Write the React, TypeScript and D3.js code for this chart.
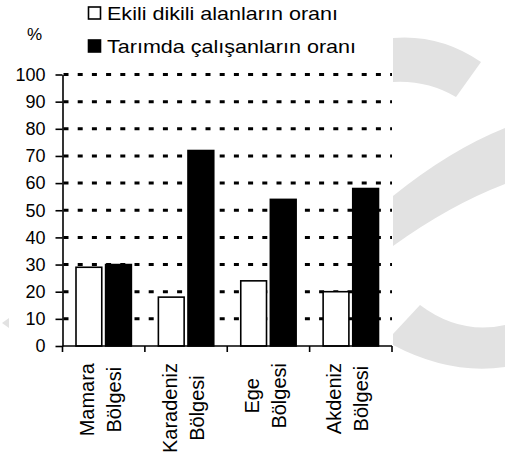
import React, { useEffect, useRef } from "react";
import * as d3 from "d3";

// chart data
const categories = ["Mamara Bölgesi", "Karadeniz Bölgesi", "Ege Bölgesi", "Akdeniz Bölgesi"];
const seriesNames = ["Ekili dikili alanların oranı", "Tarımda çalışanların oranı"];
const ekiliValues = [29, 18, 24, 20];
const tarimValues = [30, 72, 54, 58];
const yTicks = [0, 10, 20, 30, 40, 50, 60, 70, 80, 90, 100];
const gridTicks = yTicks.filter(t => t > 0);
const seriesValues = [ekiliValues, tarimValues];
const seriesFill = ["#ffffff", "#000000"];

const FONT = "'Liberation Sans', Arial, sans-serif";

const App = () => {
  const svgRef = useRef<SVGSVGElement | null>(null);

  useEffect(() => {
    if (!svgRef.current) return;
    const svg = d3.select(svgRef.current);
    svg.selectAll("*").remove();

    // faint watermark at the right
    const wm = svg.append("g").attr("fill", "#e2e2e2");
    wm.append("path").attr("d", "M393,38 Q440,34 481,62 L456,97 Q427,80 393,82 Z");
    wm.append("path").attr("d", "M393,196 Q450,150 505,128 L505,184 Q450,205 393,246 Z");
    wm.append("path").attr("d", "M393,334 L420,305 Q460,335 505,325 L505,367 Q450,375 393,345 Z");
    wm.append("path").attr("d", "M2,323 L9,318 L9,328 Z");

    const y = d3.scaleLinear().domain([0, 100]).range([346, 74.5]);
    const x0 = d3.scaleBand<string>().domain(categories).range([62.5, 392]).padding(0);
    const x1 = d3.scaleBand<number>()
      .domain([0, 1])
      .range([13.5, x0.bandwidth() - 13.5])
      .paddingInner(0.13);

    // dashed gridlines
    svg.append("g")
      .selectAll("line")
      .data(gridTicks)
      .enter()
      .append("line")
      .attr("x1", 63.5)
      .attr("x2", 392)
      .attr("y1", d => y(d))
      .attr("y2", d => y(d))
      .attr("stroke", "#000")
      .attr("stroke-width", 3)
      .attr("stroke-dasharray", "5,9.2");

    // bars
    const groups = svg.append("g")
      .selectAll("g")
      .data(categories)
      .enter()
      .append("g")
      .attr("transform", d => `translate(${x0(d)},0)`);

    groups.selectAll("rect")
      .data((_, i) => seriesValues.map((vals, s) => ({ s, v: vals[i] })))
      .enter()
      .append("rect")
      .attr("x", d => x1(d.s) as number)
      .attr("width", x1.bandwidth())
      .attr("y", d => y(d.v))
      .attr("height", d => y(0) - y(d.v))
      .attr("fill", d => seriesFill[d.s])
      .attr("stroke", "#000")
      .attr("stroke-width", 1.6);

    // y axis
    const yAxis = svg.append("g")
      .attr("transform", "translate(62.5,0)")
      .call(d3.axisLeft(y).tickValues(yTicks).tickSize(7).tickSizeOuter(0).tickPadding(10));
    yAxis.select(".domain").attr("stroke-width", 1.6);
    yAxis.selectAll(".tick line").attr("stroke-width", 1.6);
    yAxis.selectAll("text")
      .attr("fill", "#000")
      .style("font-family", FONT)
      .style("font-size", "18px");

    // x axis
    svg.append("line")
      .attr("x1", 62.5).attr("x2", 392)
      .attr("y1", 346).attr("y2", 346)
      .attr("stroke", "#000").attr("stroke-width", 1.6);
    const bounds = [...categories.map(c => x0(c) as number), 392];
    svg.append("g")
      .selectAll("line")
      .data(bounds)
      .enter()
      .append("line")
      .attr("x1", d => d).attr("x2", d => d)
      .attr("y1", 346).attr("y2", 352)
      .attr("stroke", "#000").attr("stroke-width", 1.6);

    // rotated category labels
    categories.forEach(c => {
      const cx = (x0(c) as number) + x0.bandwidth() / 2;
      const lines = c.split(" ");
      const offsets = [-9.5, 17.5];
      const texts = lines.map((line, li) =>
        svg.append("text")
          .attr("text-anchor", "middle")
          .style("font-family", FONT)
          .style("font-size", "20px")
          .attr("data-x", cx + offsets[li])
          .text(line)
      );
      const maxLen = d3.max(texts, t => (t.node() as SVGTextElement).getComputedTextLength()) ?? 0;
      const cy = 363 + maxLen / 2;
      texts.forEach((t, li) => {
        t.attr("transform", `translate(${cx + offsets[li]},${cy}) rotate(-90)`);
      });
    });

    // unit
    svg.append("text")
      .attr("x", 27).attr("y", 40)
      .style("font-family", FONT)
      .style("font-size", "17px")
      .text("%");

    // legend
    const legendY = [7, 40];
    const legendLen = [231, 249];
    seriesNames.forEach((name, i) => {
      svg.append("rect")
        .attr("x", 88.5).attr("y", legendY[i])
        .attr("width", 12).attr("height", 12)
        .attr("fill", seriesFill[i])
        .attr("stroke", "#000").attr("stroke-width", 1.6);
      svg.append("text")
        .attr("x", 107).attr("y", legendY[i] + 12.5)
        .attr("textLength", legendLen[i])
        .attr("lengthAdjust", "spacingAndGlyphs")
        .style("font-family", FONT)
        .style("font-size", "18.5px")
        .text(name);
    });
  }, []);

  return (
    <svg
      ref={svgRef}
      width={505}
      height={461}
      style={{ position: "absolute", left: 0, top: 0, background: "#fff" }}
    />
  );
};

export default App;
